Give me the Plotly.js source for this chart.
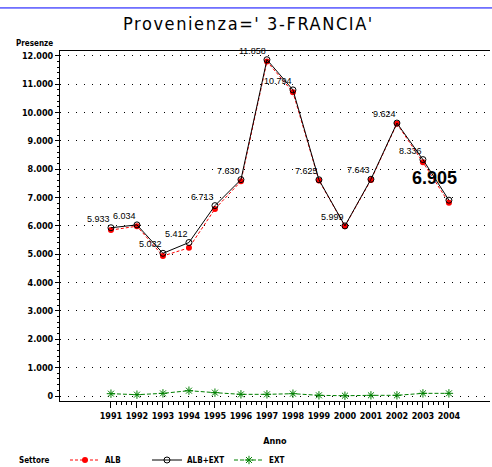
<!DOCTYPE html>
<html><head><meta charset="utf-8">
<script src="https://cdn.plot.ly/plotly-3.0.1.min.js"></script>
<style>
html,body{margin:0;padding:0;background:#fff;}
#chart{width:492px;height:467px;}
.gtitle{letter-spacing:1.6px;}
</style>
</head><body>
<div id="chart"></div>
<script>
const years = [1991,1992,1993,1994,1995,1996,1997,1998,1999,2000,2001,2002,2003,2004];
const albExt = [5933,6034,5032,5412,6713,7630,11858,10794,7625,5999,7643,9624,8336,6905];
const alb = [5851,5987,4938,5224,6595,7571,11799,10712,7601,5989,7619,9600,8242,6811];
const ext = [82,47,94,188,118,59,59,82,24,10,24,24,94,94];
const yTicks = [0,1000,2000,3000,4000,5000,6000,7000,8000,9000,10000,11000,12000];

const narrow = "DejaVu Sans Condensed, DejaVu Sans, sans-serif";
const last = years.length - 1;
const fmt = v => String(v).replace(/\B(?=(\d{3})+(?!\d))/g, '.');

const xMinor = [];
years.slice(0, -1).forEach(y => { for (let k = 1; k < 5; k++) xMinor.push(y + k / 5); });

const traces = [
  {x: years, y: alb, name: 'ALB', type: 'scatter', mode: 'lines+markers', cliponaxis: false,
   line: {color: '#ff0000', width: 1, dash: '3px,2px'},
   marker: {symbol: 'circle', size: 6, color: '#ff0000'}},
  {x: years, y: albExt, name: 'ALB+EXT', type: 'scatter', mode: 'lines+markers', cliponaxis: false,
   line: {color: '#000000', width: 1},
   marker: {symbol: 'circle-open', size: 6, color: '#000000', line: {width: 1}}},
  {x: years, y: ext, name: 'EXT', type: 'scatter', mode: 'lines+markers', cliponaxis: false,
   line: {color: '#008000', width: 1, dash: '4px,2px'},
   marker: {symbol: 'asterisk-open', size: 7, color: '#008000', line: {width: 1, color: '#008000'}}}
];

const labelAnns = years.map((yr, i) => ({
  x: yr, y: albExt[i], xref: 'x', yref: 'y', text: fmt(albExt[i]), showarrow: false,
  xanchor: 'right', yanchor: 'bottom',
  xshift: i === last ? 10 : 1, yshift: i === last ? 10 : 2,
  font: {family: 'Liberation Sans, Arial, sans-serif', size: i === last ? 18 : 9,
         weight: i === last ? 700 : 400, color: '#000'}
}));

const layout = {
  width: 492, height: 467,
  margin: {l: 60, r: 2, t: 51, b: 66, autoexpand: false},
  paper_bgcolor: '#fff', plot_bgcolor: '#fff',
  separators: ',.',
  showlegend: true,
  title: {text: "Provenienza=' 3-FRANCIA'", x: 0.505, xanchor: 'center', y: 0.95, yanchor: 'middle',
          font: {family: narrow, size: 18, color: '#000'}},
  xaxis: {range: [1989.04, 2005.58], tickmode: 'array', tickvals: years, ticktext: years.map(String),
          tickangle: 0, automargin: false,
          showgrid: false, zeroline: false, showline: true, mirror: true, linecolor: '#000', linewidth: 1,
          ticks: 'outside', ticklen: 6, tickcolor: '#000',
          tickfont: {family: narrow, size: 9, weight: 700, color: '#000'},
          minor: {tickmode: 'array', tickvals: xMinor, ticks: 'outside', ticklen: 3, tickcolor: '#000', showgrid: false},
          title: {text: 'Anno', standoff: 17, font: {family: narrow, size: 9, weight: 700, color: '#000'}}},
  yaxis: {range: [-176, 12165], tickmode: 'array', tickvals: yTicks, tickformat: ',d', automargin: false,
          showgrid: true, gridcolor: '#000', gridwidth: 1, griddash: '1px,7px',
          zeroline: false, showline: true, linecolor: '#000', linewidth: 1,
          ticks: 'outside', ticklen: 4, tickcolor: '#000',
          tickfont: {family: narrow, size: 9, weight: 700, color: '#000'},
          minor: {dtick: 200, tick0: 0, ticks: 'outside', ticklen: 2, tickcolor: '#000', showgrid: false}},
  legend: {orientation: 'h', x: 0.0116, xanchor: 'left', y: -0.1686, yanchor: 'middle',
           font: {family: narrow, size: 8, weight: 700, color: '#000'},
           entrywidth: 37, entrywidthmode: 'pixels',
           bgcolor: 'rgba(0,0,0,0)', itemwidth: 30},
  annotations: [{text: 'Presenze', xref: 'paper', yref: 'paper', x: -0.012, y: 1.02,
                 xanchor: 'right', yanchor: 'middle', showarrow: false,
                 font: {family: narrow, size: 8, weight: 700, color: '#000'}},
                {text: 'Settore', xref: 'paper', yref: 'paper', x: -0.1, y: -0.1686,
                 xanchor: 'left', yanchor: 'middle', showarrow: false,
                 font: {family: narrow, size: 8, weight: 700, color: '#000'}}].concat(labelAnns),
  shapes: [{type: 'line', xref: 'paper', yref: 'paper', x0: -0.14, x1: 1.005, y0: 1.123, y1: 1.123,
            line: {color: '#0000ff', width: 1}}]
};

Plotly.newPlot('chart', traces, layout, {displayModeBar: false, staticPlot: true});
</script>
</body></html>
